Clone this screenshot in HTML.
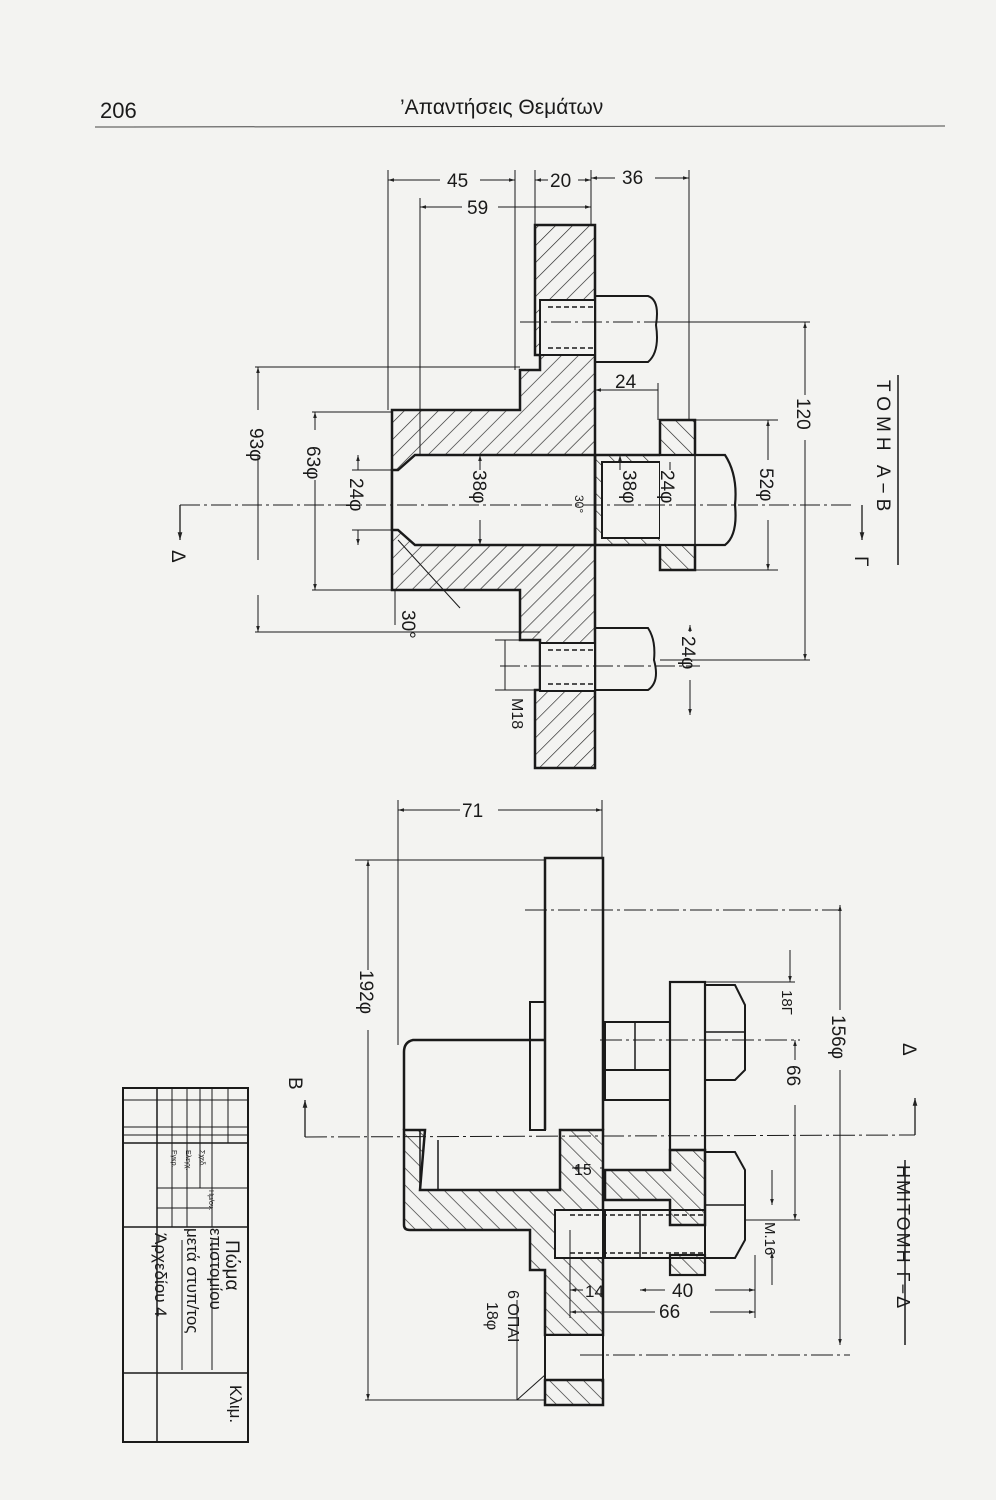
<!DOCTYPE html>
<html><head><meta charset="utf-8"><style>
html,body{margin:0;padding:0;background:#f3f3f1;}
svg{display:block}
text{font-family:"Liberation Sans","DejaVu Sans",sans-serif;fill:#1a1a1a}
</style></head><body>
<svg width="996" height="1500" viewBox="0 0 996 1500" xmlns="http://www.w3.org/2000/svg">
<defs>
<pattern id="h1" width="12" height="12" patternUnits="userSpaceOnUse" patternTransform="rotate(45)">
<line x1="0" y1="0" x2="0" y2="12" stroke="#222" stroke-width="1.3"/></pattern>
<pattern id="h2" width="12" height="12" patternUnits="userSpaceOnUse" patternTransform="rotate(-45)">
<line x1="0" y1="0" x2="0" y2="12" stroke="#222" stroke-width="1.3"/></pattern>
<marker id="a" viewBox="0 0 10 10" refX="10" refY="5" markerWidth="8" markerHeight="6" orient="auto-start-reverse"><path d="M0,2 L10,5 L0,8z" fill="#222"/></marker>
</defs>
<rect width="996" height="1500" fill="#f3f3f1"/>
<!-- header -->
<text x="100" y="118" font-size="22">206</text>
<text x="400" y="114" font-size="21">’Απαντήσεις Θεμάτων</text>
<line x1="95" y1="127" x2="945" y2="126" stroke="#444" stroke-width="1"/>

<g stroke="#1a1a1a" fill="none" stroke-width="1">
<!-- ===== TOP VIEW ===== -->
<!-- hub hatched -->
<path d="M535,225 H595 V768 H535 V690 H540 V640 H520 V590 H392 V410 H520 V370 H540 V355 H535 Z" fill="url(#h1)" stroke-width="2.5"/>
<!-- bore (white) -->
<path d="M415,455 H595 V545 H415 L398,530 H392 V470 H398 Z" fill="#f3f3f1" stroke-width="2.5"/>
<!-- bolt hole areas in flange -->
<rect x="540" y="300" width="55" height="55" fill="#f3f3f1" stroke-width="2"/>
<rect x="540" y="643" width="55" height="48" fill="#f3f3f1" stroke-width="2"/>
<line x1="548" y1="307" x2="595" y2="307" stroke-dasharray="5,3" stroke-width="1.5"/>
<line x1="548" y1="348" x2="595" y2="348" stroke-dasharray="5,3" stroke-width="1.5"/>
<line x1="548" y1="650" x2="595" y2="650" stroke-dasharray="5,3" stroke-width="1.5"/>
<line x1="548" y1="684" x2="595" y2="684" stroke-dasharray="5,3" stroke-width="1.5"/>
<!-- bolt shafts -->
<path d="M595,296 H648 Q660,300 656,325 Q660,352 648,362 H595" stroke-width="2"/>
<path d="M595,628 H648 Q656,640 654,660 Q660,682 648,690 H595" stroke-width="2"/>
<!-- right gland -->
<path d="M595,455 H660 V420 H695 V570 H660 V545 H595 Z" fill="url(#h2)" stroke-width="2.5"/>
<rect x="602" y="462" width="58" height="76" fill="#f3f3f1" stroke-width="2"/>
<!-- bolt head -->
<path d="M660,455 H725 Q738,475 735,505 Q738,535 725,545 H660" fill="#f3f3f1" stroke-width="2.2"/>
<line x1="695" y1="455" x2="695" y2="545" stroke-width="1.5"/>
<!-- centre lines -->
<line x1="180" y1="505" x2="855" y2="505" stroke-dasharray="20,4,3,4"/>
<line x1="520" y1="322" x2="810" y2="322" stroke-dasharray="20,4,3,4"/>
<line x1="500" y1="666" x2="700" y2="666" stroke-dasharray="20,4,3,4"/>
<path d="M180,505 V540" marker-end="url(#a)" stroke-width="1.3"/>
<path d="M862,505 V540" marker-end="url(#a)" stroke-width="1.3"/>
<!-- top dims -->
<line x1="388" y1="170" x2="388" y2="410"/>
<line x1="420" y1="198" x2="420" y2="455"/>
<line x1="515" y1="170" x2="515" y2="370"/>
<line x1="535" y1="170" x2="535" y2="225"/>
<line x1="591" y1="170" x2="591" y2="225"/>
<line x1="689" y1="170" x2="689" y2="420"/>
<line x1="388" y1="180" x2="440" y2="180" marker-start="url(#a)"/>
<line x1="480" y1="180" x2="515" y2="180" marker-end="url(#a)"/>
<line x1="535" y1="180" x2="548" y2="180" marker-start="url(#a)"/>
<line x1="578" y1="180" x2="591" y2="180" marker-end="url(#a)"/>
<line x1="591" y1="178" x2="615" y2="178" marker-start="url(#a)"/>
<line x1="655" y1="178" x2="689" y2="178" marker-end="url(#a)"/>
<line x1="420" y1="207" x2="462" y2="207" marker-start="url(#a)"/>
<line x1="498" y1="207" x2="591" y2="207" marker-end="url(#a)"/>
<!-- left dims -->
<line x1="255" y1="367" x2="520" y2="367"/>
<line x1="255" y1="632" x2="540" y2="632"/>
<line x1="258" y1="367" x2="258" y2="410" marker-start="url(#a)"/>
<line x1="258" y1="455" x2="258" y2="560"/>
<line x1="258" y1="595" x2="258" y2="632" marker-end="url(#a)"/>
<line x1="312" y1="412" x2="392" y2="412"/>
<line x1="312" y1="590" x2="392" y2="590"/>
<line x1="315" y1="412" x2="315" y2="430" marker-start="url(#a)"/>
<line x1="315" y1="480" x2="315" y2="590" marker-end="url(#a)"/>
<line x1="352" y1="470" x2="392" y2="470"/>
<line x1="352" y1="530" x2="392" y2="530"/>
<line x1="358" y1="470" x2="358" y2="455" marker-end="url(#a)"/>
<line x1="358" y1="530" x2="358" y2="545" marker-end="url(#a)"/>
<line x1="480" y1="455" x2="480" y2="470" marker-start="url(#a)"/>
<line x1="480" y1="520" x2="480" y2="545" marker-end="url(#a)"/>
<line x1="620" y1="455" x2="620" y2="470" marker-start="url(#a)"/>
<line x1="670" y1="462" x2="670" y2="470"/>
<!-- right dims -->
<line x1="660" y1="322" x2="810" y2="322"/>
<line x1="660" y1="660" x2="810" y2="660"/>
<line x1="805" y1="322" x2="805" y2="395" marker-start="url(#a)"/>
<line x1="805" y1="440" x2="805" y2="660" marker-end="url(#a)"/>
<line x1="695" y1="420" x2="778" y2="420"/>
<line x1="695" y1="570" x2="778" y2="570"/>
<line x1="768" y1="420" x2="768" y2="460" marker-start="url(#a)"/>
<line x1="768" y1="520" x2="768" y2="570" marker-end="url(#a)"/>
<line x1="595" y1="390" x2="658" y2="390" marker-start="url(#a)"/>
<line x1="658" y1="383" x2="658" y2="420"/>
<line x1="690" y1="625" x2="690" y2="632" marker-start="url(#a)"/>
<line x1="690" y1="680" x2="690" y2="715" marker-end="url(#a)"/>
<line x1="505" y1="640" x2="505" y2="690"/>
<line x1="495" y1="640" x2="540" y2="640"/>
<line x1="495" y1="690" x2="540" y2="690"/>
<line x1="398" y1="540" x2="460" y2="608"/>
<line x1="395" y1="590" x2="395" y2="625"/>
</g>
<g font-size="19">
<text x="447" y="187">45</text>
<text x="550" y="187">20</text>
<text x="622" y="184">36</text>
<text x="467" y="214">59</text>
<text transform="translate(250,428) rotate(90)">93φ</text>
<text transform="translate(307,446) rotate(90)">63φ</text>
<text transform="translate(350,478) rotate(90)">24φ</text>
<text transform="translate(473,470) rotate(90)">38φ</text>
<text transform="translate(623,470) rotate(90)">38φ</text>
<text transform="translate(661,470) rotate(90)">24φ</text>
<text transform="translate(760,468) rotate(90)">52φ</text>
<text transform="translate(797,398) rotate(90)">120</text>
<text transform="translate(682,636) rotate(90)">24φ</text>
<text transform="translate(512,698) rotate(90)" font-size="16">M18</text>
<text transform="translate(402,610) rotate(90)">30°</text>
<text transform="translate(575,495) rotate(90)" font-size="12">30°</text>
<text x="615" y="388">24</text>
<text transform="translate(172,550) rotate(90)">Δ</text>
<text transform="translate(855,556) rotate(90)">Γ</text>
<text transform="translate(877,380) rotate(90)" font-size="19" letter-spacing="5">ΤΟΜΗ Α−Β</text>
</g>
<line x1="898" y1="375" x2="898" y2="565" stroke="#1a1a1a" stroke-width="1.5"/>

<g stroke="#1a1a1a" fill="none" stroke-width="1">
<!-- ===== BOTTOM VIEW ===== -->
<!-- flange outline (upper, unhatched) -->
<path d="M545,1130 V858 H603 V1130" stroke-width="2.5"/>
<rect x="530" y="1002" width="15" height="128" stroke-width="2"/>
<path d="M545,1040 H413 Q404,1042 404,1052 V1130" stroke-width="2.5"/>
<!-- lower hatched hub -->
<path d="M404,1130 V1225 Q404,1230 410,1230 H530 V1270 H545 V1335 H603 V1130 H560 V1190 H420 L425,1130 Z" fill="url(#h2)" stroke-width="2.5"/>
<rect x="555" y="1210" width="48" height="48" fill="#f3f3f1" stroke-width="2"/>
<rect x="545" y="1335" width="58" height="45" fill="#f3f3f1" stroke-width="2"/>
<path d="M545,1380 H603 V1405 H545 Z" fill="url(#h2)" stroke-width="2.5"/>
<line x1="420" y1="1130" x2="420" y2="1190" stroke-width="1.5"/>
<line x1="438" y1="1140" x2="438" y2="1190" stroke-width="1.5"/>
<!-- right plate -->
<path d="M605,1170 H670 V1150 H705 V1225 H670 V1200 H605 Z" fill="url(#h2)" stroke-width="2.5"/>
<rect x="670" y="982" width="35" height="168" stroke-width="2.2"/>
<rect x="670" y="1255" width="35" height="20" fill="url(#h2)" stroke-width="2.2"/>
<rect x="605" y="1022" width="65" height="48" stroke-width="2"/>
<rect x="605" y="1070" width="65" height="30" stroke-width="2"/>
<line x1="635" y1="1022" x2="635" y2="1070" stroke-width="1.5"/>
<!-- bolts -->
<rect x="605" y="1210" width="100" height="48" stroke-width="2"/>
<line x1="640" y1="1210" x2="640" y2="1258" stroke-width="1.5"/>
<line x1="570" y1="1215" x2="705" y2="1215" stroke-dasharray="5,3" stroke-width="1.5"/>
<line x1="570" y1="1253" x2="705" y2="1253" stroke-dasharray="5,3" stroke-width="1.5"/>
<!-- nuts -->
<path d="M705,985 H735 L745,1005 V1070 L735,1080 H705 Z" stroke-width="2"/>
<line x1="705" y1="1032" x2="745" y2="1032" stroke-width="1.5"/>
<path d="M705,1152 H735 L745,1170 V1240 L735,1258 H705 Z" stroke-width="2"/>
<line x1="705" y1="1205" x2="745" y2="1205" stroke-width="1.5"/>
<!-- centre lines -->
<line x1="305" y1="1137" x2="915" y2="1135" stroke-dasharray="22,4,3,4"/>
<line x1="525" y1="910" x2="840" y2="910" stroke-dasharray="22,4,3,4"/>
<line x1="600" y1="1040" x2="800" y2="1040" stroke-dasharray="22,4,3,4"/>
<line x1="580" y1="1355" x2="850" y2="1355" stroke-dasharray="22,4,3,4"/>
<path d="M305,1137 V1100" marker-end="url(#a)" stroke-width="1.3"/>
<path d="M915,1135 V1098" marker-end="url(#a)" stroke-width="1.3"/>
<!-- dims -->
<line x1="398" y1="800" x2="398" y2="1045"/>
<line x1="602" y1="800" x2="602" y2="858"/>
<line x1="398" y1="810" x2="460" y2="810" marker-start="url(#a)"/>
<line x1="498" y1="810" x2="602" y2="810" marker-end="url(#a)"/>
<line x1="355" y1="860" x2="545" y2="860"/>
<line x1="365" y1="1400" x2="545" y2="1400"/>
<line x1="368" y1="860" x2="368" y2="970" marker-start="url(#a)"/>
<line x1="368" y1="1030" x2="368" y2="1400" marker-end="url(#a)"/>
<line x1="840" y1="905" x2="840" y2="1010" marker-start="url(#a)"/>
<line x1="840" y1="1070" x2="840" y2="1345" marker-end="url(#a)"/>
<line x1="795" y1="1040" x2="795" y2="1060" marker-start="url(#a)"/>
<line x1="795" y1="1105" x2="795" y2="1220" marker-end="url(#a)"/>
<line x1="745" y1="1220" x2="800" y2="1220"/>
<line x1="790" y1="950" x2="790" y2="982" marker-end="url(#a)"/>
<line x1="705" y1="982" x2="795" y2="982"/>
<line x1="772" y1="1170" x2="772" y2="1205" marker-end="url(#a)"/>
<line x1="772" y1="1285" x2="772" y2="1252" marker-end="url(#a)"/>
<line x1="572" y1="1168" x2="590" y2="1168" marker-start="url(#a)"/>
<line x1="600" y1="1168" x2="603" y2="1168"/>
<line x1="570" y1="1290" x2="583" y2="1290" marker-start="url(#a)"/>
<line x1="640" y1="1290" x2="665" y2="1290" marker-start="url(#a)"/>
<line x1="715" y1="1290" x2="755" y2="1290" marker-end="url(#a)"/>
<line x1="570" y1="1312" x2="655" y2="1312" marker-start="url(#a)"/>
<line x1="710" y1="1312" x2="755" y2="1312" marker-end="url(#a)"/>
<line x1="755" y1="1255" x2="755" y2="1318"/>
<line x1="570" y1="1230" x2="570" y2="1318"/>
<line x1="517" y1="1300" x2="517" y2="1400"/>
<line x1="517" y1="1400" x2="545" y2="1375"/>
<!-- title block -->
<rect x="123" y="1088" width="125" height="354" stroke-width="2"/>
<line x1="123" y1="1143" x2="248" y2="1143" stroke-width="1.5"/>
<line x1="123" y1="1227" x2="248" y2="1227" stroke-width="1.5"/>
<line x1="123" y1="1373" x2="248" y2="1373" stroke-width="1.5"/>
<line x1="157" y1="1088" x2="157" y2="1442" stroke-width="1.5"/>
<line x1="172" y1="1088" x2="172" y2="1227"/>
<line x1="187" y1="1088" x2="187" y2="1227"/>
<line x1="200" y1="1088" x2="200" y2="1188"/>
<line x1="212" y1="1088" x2="212" y2="1227"/>
<line x1="228" y1="1088" x2="228" y2="1143"/>
<line x1="123" y1="1100" x2="248" y2="1100"/>
<line x1="123" y1="1127" x2="248" y2="1127"/>
<line x1="123" y1="1135" x2="248" y2="1135"/>
<line x1="157" y1="1188" x2="248" y2="1188"/>
<line x1="157" y1="1208" x2="212" y2="1208"/>
<line x1="182" y1="1240" x2="182" y2="1370"/>
</g>
<g font-size="19">
<text x="462" y="817">71</text>
<text transform="translate(360,970) rotate(90)">192φ</text>
<text transform="translate(832,1015) rotate(90)">156φ</text>
<text transform="translate(787,1065) rotate(90)">66</text>
<text transform="translate(782,990) rotate(90)" font-size="15">18Γ</text>
<text transform="translate(765,1222) rotate(90)" font-size="15">M.16</text>
<text x="574" y="1175" font-size="16">15</text>
<text x="585" y="1297" font-size="17">14</text>
<text x="672" y="1297">40</text>
<text x="659" y="1318">66</text>
<text transform="translate(508,1290) rotate(90)" font-size="16">6 ΟΠΑΙ</text>
<text transform="translate(487,1302) rotate(90)" font-size="16">18φ</text>
<text transform="translate(289,1077) rotate(90)">Β</text>
<text transform="translate(903,1043) rotate(90)">Δ</text>
<text transform="translate(897,1165) rotate(90)" font-size="18" letter-spacing="2">ΗΜΙΤΟΜΗ Γ−Δ</text>
<text transform="translate(226,1240) rotate(90)" font-size="19">Πώμα</text>
<text transform="translate(210,1228) rotate(90)" font-size="17">επιστομίου</text>
<text transform="translate(230,1385) rotate(90)" font-size="17">Κλιμ.</text>
<text transform="translate(187,1228) rotate(90)" font-size="17">μετά στυπ/τος</text>
<text transform="translate(155,1233) rotate(90)" font-size="17">Άρχεδίου 4</text>
<text transform="translate(200,1150) rotate(90)" font-size="7">Σχεδ.</text>
<text transform="translate(186,1150) rotate(90)" font-size="7">Ελεγχ.</text>
<text transform="translate(172,1150) rotate(90)" font-size="7">Εγκρ.</text>
<text transform="translate(209,1190) rotate(90)" font-size="7">Ημ/ον.</text>
</g>
<line x1="905" y1="1160" x2="905" y2="1345" stroke="#1a1a1a" stroke-width="1.5"/>
<line x1="212" y1="1240" x2="212" y2="1370" stroke="#1a1a1a" stroke-width="1"/>
</svg>
</body></html>
